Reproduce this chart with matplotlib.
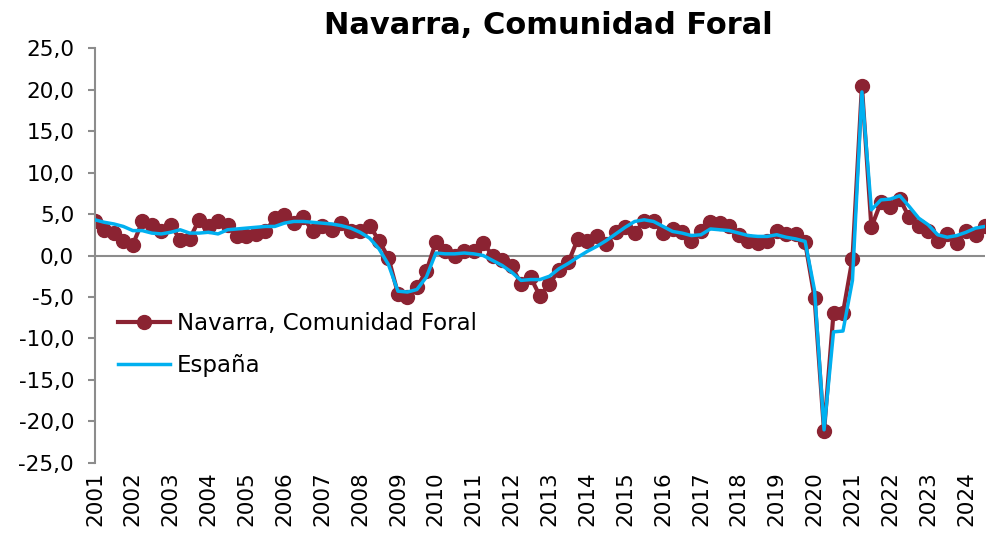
import numpy as np
from matplotlib import pyplot as plt

plt.rcParams['font.family'] = ['DejaVu Sans']

# quarterly series, 2001 Q1 .. 2024 Q3
years = list(range(2001, 2025))
navarra = [
    4.1, 3.1, 2.7, 1.7,
    1.3, 4.1, 3.7, 2.9,
    3.7, 1.9, 2.0, 4.3,
    3.5, 4.1, 3.7, 2.4,
    2.4, 2.6, 2.9, 4.5,
    4.9, 3.9, 4.6, 2.9,
    3.6, 3.1, 3.9, 2.9,
    2.9, 3.6, 1.8, -0.3,
    -4.6, -5.0, -3.8, -1.9,
    1.6, 0.6, -0.1, 0.5,
    0.6, 1.5, 0.0, -0.6,
    -1.3, -3.4, -2.6, -4.9,
    -3.4, -1.8, -0.8, 2.0,
    1.8, 2.4, 1.4, 2.8,
    3.4, 2.7, 4.2, 4.1,
    2.7, 3.2, 2.8, 1.7,
    3.0, 4.0, 3.9, 3.5,
    2.5, 1.8, 1.5, 1.8,
    3.0, 2.6, 2.6, 1.6,
    -5.1, -21.2, -6.9, -6.9,
    -0.4, 20.4, 3.4, 6.4,
    5.9, 6.8, 4.6, 3.6,
    2.9, 1.7, 2.6, 1.5,
    3.0, 2.5, 3.5,
]
espana = [
    4.3, 4.0, 3.8, 3.5,
    3.0, 3.0, 2.7, 2.6,
    2.8, 3.1, 2.7, 2.7,
    2.8, 2.6, 3.1, 3.2,
    3.3, 3.4, 3.5, 3.5,
    3.9, 4.1, 4.1, 4.0,
    3.9, 3.8, 3.6, 3.3,
    2.8, 2.1, 0.8, -1.1,
    -4.3, -4.4, -4.1, -2.6,
    0.3, 0.2, 0.2, 0.3,
    0.2, 0.0, -0.6, -1.2,
    -2.0, -3.0, -2.9, -2.9,
    -2.5, -1.6, -0.95, -0.2,
    0.5, 1.1, 1.8, 2.6,
    3.4, 4.1, 4.3, 4.1,
    3.5, 2.9, 2.7, 2.4,
    2.5, 3.2, 3.1, 3.0,
    2.7, 2.4, 2.3, 2.3,
    2.5, 2.2, 2.0, 1.7,
    -4.2, -21.0, -9.2, -9.1,
    -3.0, 19.7, 5.5, 6.7,
    6.8, 7.2, 5.9, 4.5,
    3.7, 2.5, 2.2, 2.4,
    2.8, 3.3, 3.5,
]

x = np.arange(len(navarra))

fig = plt.figure(figsize=(9.86, 5.4), dpi=100)
ax = fig.add_axes([0.0963, 0.1426, 0.9027, 0.7685])

ax.axhline(0, color="#8c8c8c", lw=1.5, zorder=1)
ax.plot(x, navarra, color="#8B2332", lw=3, marker="o", markersize=10,
        label="Navarra, Comunidad Foral", zorder=2)
ax.plot(x, espana, color="#00B0F0", lw=2.5, label="España", zorder=3)

ax.set_xlim(0, len(navarra) - 1)
ax.set_ylim(-25, 25)
yt = np.arange(-25, 26, 5)
ax.set_yticks(yt)
ax.set_yticklabels([f"{v:.1f}".replace(".", ",") for v in yt], fontsize=15.5)
ax.set_xticks(x[::4])
ax.set_xticklabels([str(y) for y in years], rotation=90, fontsize=15.5)
ax.tick_params(axis="x", length=0, pad=6)
ax.tick_params(axis="y", length=5, color="#8c8c8c", width=1.5, pad=10)

for s in ["top", "right", "bottom"]:
    ax.spines[s].set_visible(False)
ax.spines["left"].set_color("#8c8c8c")
ax.spines["left"].set_linewidth(1.5)

fig.text(0.556, 0.952, "Navarra, Comunidad Foral", ha="center", va="center",
         fontsize=22, fontweight="bold")

ax.legend(loc="center left", bbox_to_anchor=(0.003, 0.285), frameon=False,
          fontsize=16.5, handlelength=2.27, labelspacing=0.85, handletextpad=0.3)

fig.savefig("out.png", dpi=100)
